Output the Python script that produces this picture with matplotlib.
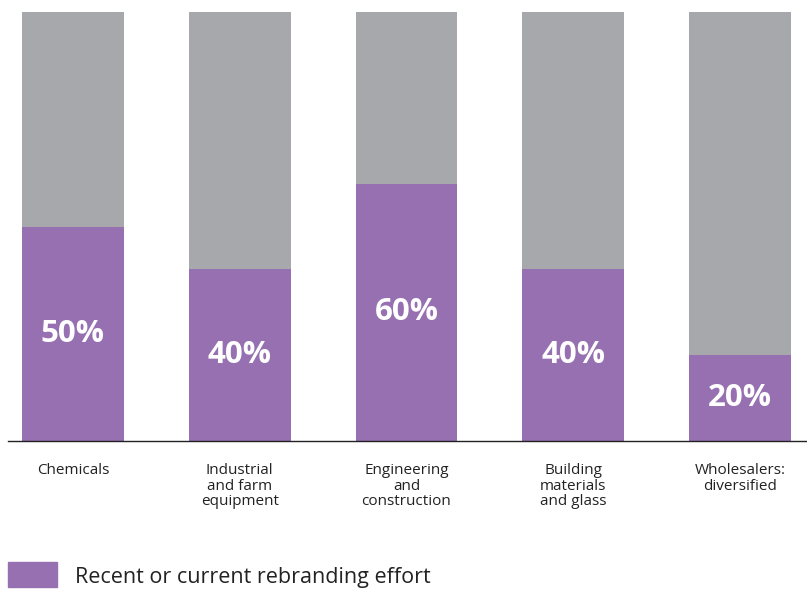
import matplotlib.pyplot as plt
from matplotlib.patches import Rectangle

plt.rcParams["font.family"] = ["Open Sans", "DejaVu Sans"]

categories = ["Chemicals", "Industrial\nand farm\nequipment", "Engineering\nand\nconstruction",
              "Building\nmaterials\nand glass", "Wholesalers:\ndiversified"]
rebrand = [50, 40, 60, 40, 20]
rest = [100 - v for v in rebrand]
legend_label = "Recent or current rebranding effort"

purple = "#9670b1"
gray = "#a7a8ab"

fig = plt.figure(figsize=(8.07, 5.90), dpi=100)
ax = fig.add_axes([8 / 807, 1 - 441 / 590, 799 / 807, 429 / 590])

x = list(range(len(categories)))
ax.bar(x, rebrand, width=0.611, color=purple)
ax.bar(x, rest, bottom=rebrand, width=0.611, color=gray)

for xi, v in zip(x, rebrand):
    ax.text(xi, v / 2, f"{v}%", ha="center", va="center", color="white",
            fontsize=22.5, fontweight="bold")

ax.set_xlim(-0.389, 4.401)
ax.set_ylim(0, 100)
for s in ["top", "right", "left"]:
    ax.spines[s].set_visible(False)
ax.spines["bottom"].set_color("#222222")
ax.spines["bottom"].set_linewidth(1.0)
ax.set_yticks([])
ax.set_xticks(x)
ax.set_xticklabels(categories, fontsize=11, color="#222222", linespacing=1.05)
ax.tick_params(axis="x", length=0, pad=16)

# legend
fig.patches.append(Rectangle((8 / 807, 1 - 587 / 590), 49 / 807, 25 / 590,
                             transform=fig.transFigure, color=purple))
fig.text(75 / 807, 1 - 578 / 590, legend_label, fontsize=15.5, color="#222222", va="center")

fig.savefig("out.png", dpi=100)
